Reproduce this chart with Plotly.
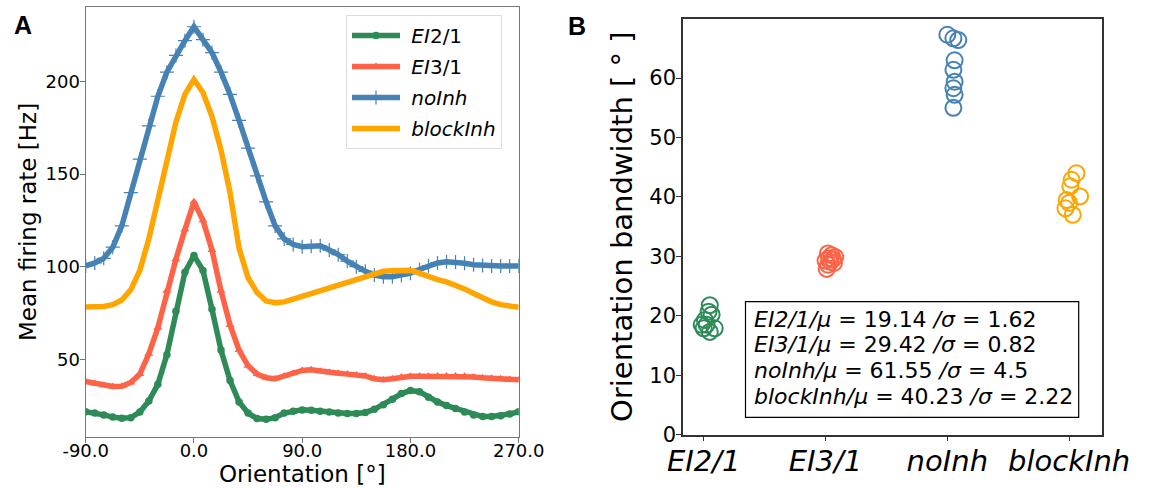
import plotly.graph_objects as go

# ---------------- Panel A data ----------------
orientation = [-90 + 7.5 * i for i in range(49)]

ei21 = [21.7, 21.0, 20.0, 18.8, 18.2, 18.5, 21.5, 27.5, 36.5, 52.5, 76.0, 97.0, 106.0,
        98.0, 77.0, 55.0, 38.5, 27.0, 21.0, 18.0, 17.6, 18.5, 21.0, 22.0, 22.7,
        22.5, 22.0, 21.5, 21.0, 20.8, 20.8, 21.3, 23.0, 25.5, 28.5, 31.5, 33.1,
        32.5, 29.5, 27.0, 25.0, 23.5, 21.5, 20.0, 19.1, 19.1, 19.5, 20.5, 21.7]

ei31 = [38.0, 37.0, 36.0, 35.3, 35.5, 37.5, 42.0, 53.0, 67.0, 87.0, 104.0, 120.0, 135.0,
        125.0, 109.0, 87.0, 68.5, 55.0, 46.5, 42.0, 40.0, 39.5, 41.0, 42.5, 44.0,
        44.3, 43.5, 43.0, 42.5, 42.0, 41.5, 41.0, 39.5, 39.0, 39.5, 40.5, 40.8,
        40.8, 40.8, 41.0, 41.0, 41.0, 40.8, 40.5, 40.0, 39.8, 39.5, 39.2, 38.9]

noinh = [100.4, 102.0, 104.5, 110.5, 122.0, 140.0, 158.0, 176.0, 192.0, 205.0, 214.0, 222.0, 229.5,
         222.5, 215.5, 205.0, 193.0, 179.0, 164.0, 149.0, 135.0, 122.0, 115.0, 112.0, 110.8,
         111.0, 111.3, 109.0, 106.5, 103.0, 100.0, 97.5, 95.5, 94.6, 94.6, 95.2, 96.5,
         98.5, 100.5, 102.0, 102.7, 102.5, 101.8, 101.0, 100.6, 100.4, 100.4, 100.4, 100.4]

blockinh = [78.2, 78.2, 78.5, 79.5, 82.0, 87.5, 98.0, 115.0, 136.0, 158.0, 178.0, 193.0, 201.0,
            194.0, 181.0, 163.0, 140.0, 110.0, 94.0, 86.0, 81.5, 80.5, 81.0, 82.5, 84.0,
            85.5, 87.0, 88.5, 90.0, 91.5, 92.8, 94.5, 96.5, 97.5, 97.8, 98.0, 98.0,
            96.5, 94.5, 93.0, 91.8, 90.0, 88.0, 85.5, 83.0, 81.0, 79.5, 78.5, 78.1]

a_xticks = [-90, 0, 90, 180, 270]
a_xticklabels = ["-90.0", "0.0", "90.0", "180.0", "270.0"]
a_yticks = [50, 100, 150, 200]

# ---------------- Panel B data ----------------
categories = ["EI2/1", "EI3/1", "noInh", "blockInh"]
b_ei21_x = [0.05, 0.04, 0.065, 0.01, 0.024, 0.09, 0.0, 0.05, -0.017]
b_ei21_y = [21.8, 20.7, 20.2, 19.3, 18.5, 17.9, 17.9, 17.3, 18.5]
b_ei31_x = [1.02, 1.05, 1.08, 1.03, 1.06, 1.0, 1.04, 1.07, 1.02, 1.01]
b_ei31_y = [30.5, 30.2, 29.9, 29.7, 29.5, 29.3, 29.1, 28.9, 28.6, 27.9]
b_noinh_x = [2.0, 2.05, 2.09, 2.06, 2.05, 2.06, 2.05, 2.06, 2.05]
b_noinh_y = [67.3, 66.7, 66.4, 63.0, 61.4, 59.4, 58.3, 57.2, 55.0]
b_block_x = [3.06, 3.02, 3.01, 3.09, 2.98, 3.0, 2.97, 3.03]
b_block_y = [44.0, 42.9, 41.8, 40.1, 39.5, 39.0, 38.1, 37.0]

stats_mu = [19.14, 29.42, 61.55, 40.23]
stats_sigma = ["1.62", "0.82", "4.5", "2.22"]

colors = ["#2e8b57", "#ff6347", "#4682b4", "#ffa500"]

FONT = "DejaVu Sans"
W, H = 1149, 488
NB = "\u00a0"


def px(x):
    return x / W


def py(y):
    return 1 - y / H


fig = go.Figure()

# Panel A lines
fig.add_trace(go.Scatter(x=orientation, y=ei21, mode="lines+markers", name=NB + "<i>EI</i>2/1",
                         legendgroup="g1",
                         line=dict(color=colors[0], width=5.5),
                         marker=dict(symbol="circle", size=7.5, color=colors[0]),
                         xaxis="x", yaxis="y"))
fig.add_trace(go.Scatter(x=orientation, y=ei31, mode="lines+markers", name=NB + "<i>EI</i>3/1",
                         legendgroup="g2",
                         line=dict(color=colors[1], width=5.5),
                         marker=dict(symbol="triangle-up", size=8, color=colors[1]),
                         xaxis="x", yaxis="y"))
fig.add_trace(go.Scatter(x=orientation, y=noinh, mode="lines+markers", name=NB + "<i>noInh</i>",
                         legendgroup="g3",
                         line=dict(color=colors[2], width=5.5),
                         marker=dict(symbol="cross-thin-open", size=10, color=colors[2],
                                     line=dict(width=1.2, color=colors[2])),
                         xaxis="x", yaxis="y"))
fig.add_trace(go.Scatter(x=orientation, y=blockinh, mode="lines", name=NB + "<i>blockInh</i>",
                         legendgroup="g4",
                         line=dict(color=colors[3], width=5.5),
                         xaxis="x", yaxis="y"))

# Panel B points
for bx, by, c in [(b_ei21_x, b_ei21_y, colors[0]), (b_ei31_x, b_ei31_y, colors[1]),
                  (b_noinh_x, b_noinh_y, colors[2]), (b_block_x, b_block_y, colors[3])]:
    fig.add_trace(go.Scatter(x=bx, y=by, mode="markers", showlegend=False,
                             marker=dict(symbol="circle-open", size=16, color=c,
                                         line=dict(width=2, color=c)),
                             xaxis="x2", yaxis="y2"))

axA = "#777777"
axB = "#333333"

fig.update_layout(
    width=W, height=H,
    margin=dict(l=0, r=0, t=0, b=0, autoexpand=False),
    paper_bgcolor="white", plot_bgcolor="white",
    font=dict(family=FONT, color="black"),
    xaxis=dict(domain=[px(85.7), px(518.7)], range=[-90, 270], automargin=False,
               tickvals=a_xticks, ticktext=a_xticklabels, ticklabelstandoff=-8,
               tickfont=dict(size=18, family=FONT, color="black"),
               showgrid=False, zeroline=False, showline=True, mirror=True,
               linecolor=axA, linewidth=1.3, ticks="outside", ticklen=5, tickcolor=axA,
               anchor="y"),
    yaxis=dict(domain=[py(437.3), py(7.3)], range=[7.9, 240], automargin=False,
               tickvals=a_yticks, ticklabelstandoff=-4,
               tickfont=dict(size=18, family=FONT, color="black"),
               showgrid=False, zeroline=False, showline=True, mirror=True,
               linecolor=axA, linewidth=1.3, ticks="outside", ticklen=5, tickcolor=axA,
               anchor="x"),
    xaxis2=dict(domain=[px(683), px(1102)], range=[-0.17, 3.27], automargin=False,
                tickvals=[0, 1, 2, 3], ticktext=["<i>%s</i>" % c for c in categories],
                ticklabelstandoff=-5,
                tickfont=dict(size=29, family=FONT, color="black"),
                showgrid=False, zeroline=False, showline=True, mirror=True,
                linecolor=axB, linewidth=1.5, ticks="outside", ticklen=5, tickcolor=axB,
                anchor="y2"),
    yaxis2=dict(domain=[py(434.7), py(19.3)], range=[0, 69.9], automargin=False,
                tickvals=[0, 10, 20, 30, 40, 50, 60], ticklabelstandoff=-4,
                tickfont=dict(size=21, family=FONT, color="black"),
                showgrid=False, zeroline=False, showline=True, mirror=True,
                linecolor=axB, linewidth=1.5, ticks="outside", ticklen=5, tickcolor=axB,
                anchor="x2"),
    legend=dict(x=px(346), y=py(15), xanchor="left", yanchor="top",
                bgcolor="rgba(255,255,255,0.8)", bordercolor="#dddddd", borderwidth=1,
                font=dict(size=20, family=FONT, color="black"),
                itemwidth=48, tracegroupgap=2, traceorder="grouped"),
    showlegend=True,
)

# statistics box (frame as a shape in paper space, each line its own text)
fig.add_shape(type="rect", xref="paper", yref="paper",
              x0=px(745.5), x1=px(1078.7), y0=py(417.3), y1=py(301.7),
              line=dict(color="black", width=1.2), fillcolor="white", layer="above")

annotations = [
    dict(text="<b>A</b>", x=px(23), y=py(25), xref="paper", yref="paper",
         showarrow=False, font=dict(size=25, family="Liberation Sans", color="black"),
         xanchor="center", yanchor="middle"),
    dict(text="<b>B</b>", x=px(577), y=py(26), xref="paper", yref="paper",
         showarrow=False, font=dict(size=25, family="Liberation Sans", color="black"),
         xanchor="center", yanchor="middle"),
    dict(text="Orientation [°]", x=px(302), y=py(474), xref="paper", yref="paper",
         showarrow=False, font=dict(size=23, family=FONT, color="black"),
         xanchor="center", yanchor="middle"),
    dict(text="Mean firing rate [Hz]", x=px(28), y=py(222), xref="paper", yref="paper",
         showarrow=False, textangle=-90, font=dict(size=23, family=FONT, color="black"),
         xanchor="center", yanchor="middle"),
    dict(text="Orientation bandwidth [ ° ]", x=px(622), y=py(227), xref="paper", yref="paper",
         showarrow=False, textangle=-90, font=dict(size=29, family=FONT, color="black"),
         xanchor="center", yanchor="middle"),
]

row_y = [319, 344.5, 370.5, 396.5]
for name, mu, sg, ry in zip(categories, stats_mu, stats_sigma, row_y):
    annotations.append(dict(
        text="<i>%s/μ</i> = %.2f <i>/σ</i> = %s" % (name, mu, sg),
        x=px(751.5), y=py(ry), xref="paper", yref="paper", showarrow=False,
        xanchor="left", yanchor="middle", align="left",
        font=dict(size=22, family=FONT, color="black")))

fig.update_layout(annotations=annotations)

fig.write_html("out.html")
